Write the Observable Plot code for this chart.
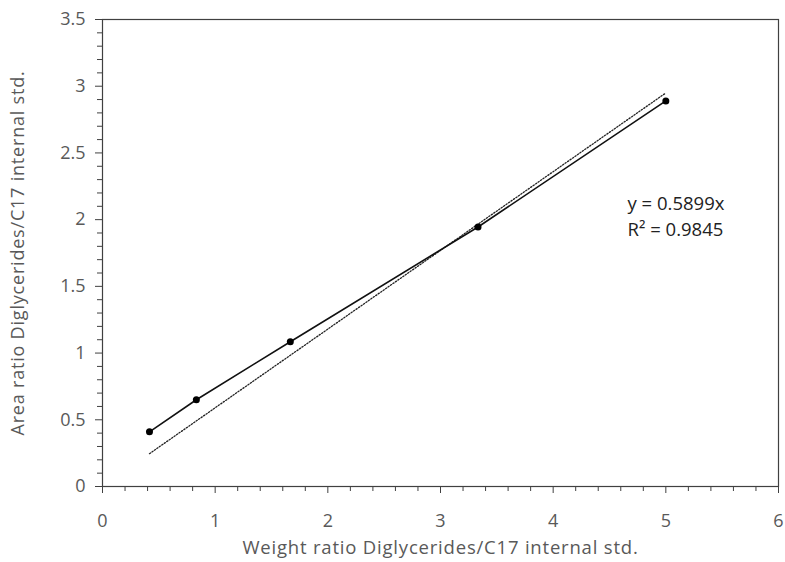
<!DOCTYPE html>
<html>
<head>
<meta charset="utf-8">
<script src="https://cdn.jsdelivr.net/npm/d3@7"></script>
<script src="https://cdn.jsdelivr.net/npm/@observablehq/plot@0.6"></script>
<style>
  html, body { margin: 0; padding: 0; background: #fff; }
</style>
</head>
<body>
<div id="chart"></div>
<script>
// ---- data ----
const weightRatio = [0.417, 0.833, 1.667, 3.333, 5.0];
const areaRatio = [0.41, 0.65, 1.085, 1.945, 2.89];
const trendSlope = 0.5899;
const equationLines = ["y = 0.5899x", "R\u00B2 = 0.9845"];
const xTicks = [0, 1, 2, 3, 4, 5, 6];
const yTicks = [0, 0.5, 1, 1.5, 2, 2.5, 3, 3.5];
const xMinorTicks = [0.2,0.4,0.6,0.8,1.2,1.4,1.6,1.8,2.2,2.4,2.6,2.8,3.2,3.4,3.6,3.8,4.2,4.4,4.6,4.8,5.2,5.4,5.6,5.8];
const yMinorTicks = [0.1,0.2,0.3,0.4,0.6,0.7,0.8,0.9,1.1,1.2,1.3,1.4,1.6,1.7,1.8,1.9,2.1,2.2,2.3,2.4,2.6,2.7,2.8,2.9,3.1,3.2,3.3,3.4];
const xTitle = "Weight ratio Diglycerides/C17 internal std.";
const yTitle = "Area ratio Diglycerides/C17 internal std.";

const points = weightRatio.map((x, i) => ({x, y: areaRatio[i]}));
const xFirst = weightRatio[0], xLast = weightRatio[weightRatio.length - 1];
const trend = [{x: xFirst, y: trendSlope * xFirst}, {x: xLast, y: trendSlope * xLast}];

const axisColor = "#404040";
const textColor = "#595959";

const chart = Plot.plot({
  width: 785,
  height: 562,
  marginLeft: 102,
  marginRight: 7,
  marginTop: 19,
  marginBottom: 76,
  style: {fontFamily: "'Open Sans', sans-serif", background: "#fff"},
  x: {domain: [0, 6]},
  y: {domain: [0, 3.5]},
  marks: [
    Plot.frame({stroke: axisColor, strokeWidth: 1.2}),
    Plot.axisX({ticks: xMinorTicks, tickSize: 5, tickFormat: () => "", label: null, stroke: axisColor}),
    Plot.axisY({ticks: yMinorTicks, tickSize: 5, tickFormat: () => "", label: null, stroke: axisColor}),
    Plot.axisX({ticks: xTicks, tickSize: 7, tickPadding: 21, tickFormat: d => String(d), label: null,
      stroke: axisColor, fill: textColor, fontSize: 18}),
    Plot.axisY({ticks: yTicks, tickSize: 7, tickPadding: 10, tickFormat: d => String(d), label: null,
      stroke: axisColor, fill: textColor, fontSize: 18}),
    Plot.text([xTitle], {frameAnchor: "bottom", textAnchor: "middle", lineAnchor: "middle", dy: 62,
      fill: textColor, fontSize: 18.5, className: "axis-title"}),
    Plot.text([yTitle], {frameAnchor: "left", textAnchor: "middle", lineAnchor: "middle", rotate: -90, dx: -84,
      fill: textColor, fontSize: 18, className: "axis-title"}),
    Plot.line(trend, {x: "x", y: "y", stroke: "#222", strokeWidth: 1.3, strokeDasharray: "1.3,1.7"}),
    Plot.line(points, {x: "x", y: "y", stroke: "#111", strokeWidth: 1.6}),
    Plot.dot(points, {x: "x", y: "y", r: 3.5, fill: "#000", stroke: null}),
    Plot.text([equationLines[0]], {x: 4.66, y: 2.12, textAnchor: "start", fill: "#222", fontSize: 18.5}),
    Plot.text([equationLines[1]], {x: 4.66, y: 2.12, dy: 26, textAnchor: "start", fill: "#222", fontSize: 18.5})
  ]
});
d3.select(chart).selectAll(".axis-title text").style("letter-spacing", "0.8px");
document.getElementById("chart").appendChild(chart);
</script>
</body>
</html>
